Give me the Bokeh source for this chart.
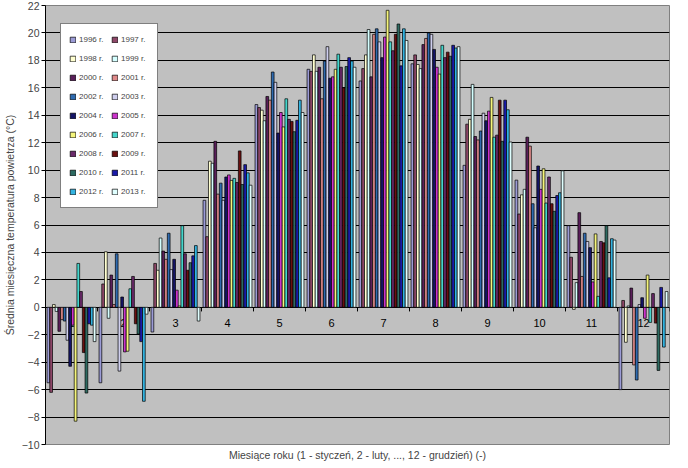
from bokeh.plotting import figure
from bokeh.models import ColumnDataSource, Range1d, FixedTicker, Legend, LegendItem, Title
from bokeh.transform import dodge
from bokeh.core.properties import value
from bokeh.embed import file_html
from bokeh.resources import INLINE

months = [1, 2, 3, 4, 5, 6, 7, 8, 9, 10, 11, 12]
month_labels = [str(m) for m in months]
years = list(range(1996, 2014))

# Monthly mean air temperature (deg C), one list per month, values for 1996..2013
jan = [-5.5, -6.2, 0.2, -0.3, -1.75, -0.9, -1.0, -2.4, -4.3, -1.3, -8.3, 3.2, 1.15, -3.3, -6.25, -1.2, -1.3, -2.5]
feb = [-5.5, 1.7, 4.05, -0.8, 2.35, 0.2, 3.9, -4.65, 0.75, -3.25, -3.2, 1.35, 2.25, -1.2, -1.95, -2.5, -6.85, -0.5]
mar = [-1.8, 3.2, 2.7, 5.05, 4.1, 3.5, 5.4, 2.75, 3.5, 1.25, 0.1, 5.95, 3.9, 2.7, 3.25, 3.75, 4.5, -1.0]
apr = [7.8, 5.15, 10.65, 10.5, 12.1, 8.25, 9.05, 7.8, 9.5, 9.65, 9.25, 9.4, 9.1, 11.4, 8.95, 10.4, 9.8, 8.9]
may = [14.78, 14.56, 14.37, 13.6, 15.37, 15.1, 17.15, 16.4, 12.7, 14.2, 13.15, 15.2, 13.7, 13.55, 12.8, 13.63, 15.1, 14.2]
jun = [17.35, 17.2, 18.4, 17.2, 17.5, 15.2, 17.95, 19.0, 16.7, 16.8, 17.35, 18.45, 17.5, 16.0, 17.55, 18.2, 17.95, 17.5]
jul = [16.5, 17.4, 18.4, 20.25, 16.8, 19.9, 20.3, 19.35, 18.2, 19.7, 21.65, 19.35, 18.7, 19.9, 20.65, 17.6, 20.3, 19.45]
aug = [17.75, 18.4, 17.7, 17.4, 19.15, 19.6, 20.0, 19.9, 18.8, 17.5, 17.0, 19.1, 18.2, 18.6, 18.3, 19.1, 18.9, 19.0]
sep = [10.35, 13.35, 13.7, 16.25, 12.45, 12.2, 12.85, 14.15, 13.6, 14.3, 15.3, 12.4, 12.55, 15.1, 12.1, 15.1, 14.4, 12.05]
oct_ = [9.27, 6.8, 8.2, 8.6, 12.4, 11.75, 7.55, 5.8, 10.3, 8.6, 10.1, 7.6, 9.5, 7.55, 7.0, 8.15, 8.35, 9.95]
nov = [5.95, 3.65, -0.15, 1.8, 6.9, 2.25, 5.4, 4.8, 4.35, 1.85, 5.35, 0.8, 4.8, 4.7, 5.95, 2.15, 5.0, 4.9]
dec = [-6.0, 0.5, -2.55, 0.1, 1.4, -4.2, -5.3, 0.2, 0.7, -0.8, 2.35, -1.1, 1.0, -1.15, -4.6, 1.45, -2.9, 1.15]

colors = ["#9b9bd6", "#8e4768", "#ffffd0", "#d4ffff", "#5a1f5a", "#e08a8a",
          "#2f6bb0", "#cfcfee", "#141466", "#cc33cc", "#f5f57a", "#45d6cc",
          "#6b2a6b", "#6b1010", "#2e6b62", "#1a1aa8", "#33b3e0", "#e0ffff"]

y_ticks = list(range(-10, 23, 2))

by_month = [jan, feb, mar, apr, may, jun, jul, aug, sep, oct_, nov, dec]
data = {"month": months, "label": month_labels}
for j, y in enumerate(years):
    data[str(y)] = [mv[j] for mv in by_month]
src = ColumnDataSource(data)

FONT = "Liberation Sans"

p = figure(width=672, height=462, output_backend="svg", toolbar_location=None,
           x_range=Range1d(0.5, 12.5), y_range=Range1d(-10, 22),
           min_border_left=36, min_border_right=3, min_border_top=5, min_border_bottom=0)
p.background_fill_color = "#c0c0c0"
p.border_fill_color = "white"
p.outline_line_color = "#808080"

p.xgrid.visible = False
p.ygrid.ticker = FixedTicker(ticks=y_ticks)
p.ygrid.grid_line_color = "black"
p.ygrid.grid_line_width = 1

p.yaxis.ticker = FixedTicker(ticks=y_ticks)
p.yaxis.minor_tick_line_color = None
p.yaxis.major_tick_in = 0
p.yaxis.major_tick_out = 4
p.yaxis.major_label_standoff = 2
p.yaxis.major_label_text_font = FONT
p.yaxis.major_label_text_font_size = "10.5px"
p.yaxis.axis_line_color = "black"
p.yaxis.axis_label = "Średnia miesięczna temperatura powietrza (°C)"
p.yaxis.axis_label_text_font = FONT
p.yaxis.axis_label_text_font_size = "10.5px"
p.yaxis.axis_label_text_font_style = "normal"
p.yaxis.axis_label_standoff = 3

p.xaxis.visible = False
xtitle = Title(text="Miesiące roku (1 - styczeń, 2 - luty, ..., 12 - grudzień) (-)",
               align="center", text_font=FONT, text_font_size="10.5px",
               text_font_style="normal", standoff=4, offset=0)
p.add_layout(xtitle, "below")

# category labels next to the zero line (drawn under the bars)
p.text(x="month", y=-1.15, text="label", source=src, text_align="center",
       text_baseline="middle", text_font=value(FONT), text_font_size="11px",
       text_color="black")

# category separator ticks on the zero line
bounds = [m - 0.5 for m in months] + [months[-1] + 0.5]
p.segment(x0=bounds, y0=[0] * len(bounds), x1=bounds, y1=[-0.3] * len(bounds),
          line_color="black", line_width=1)

n = len(years)
group = 0.94
bw = group / n
items = []
for j, y in enumerate(years):
    off = (j - (n - 1) / 2) * bw
    r = p.vbar(x=dodge("month", off, range=p.x_range), top=str(y), bottom=0,
               width=bw, source=src, fill_color=colors[j], line_color="black",
               line_width=0.7)
    items.append(LegendItem(label=f"{y} r.", renderers=[r]))

legend = Legend(items=items, location=(15, 236), orientation="horizontal", ncols=2,
                background_fill_color="white", background_fill_alpha=1,
                border_line_color="black", border_line_width=1,
                label_text_font=FONT, label_text_font_size="8px",
                glyph_width=7, glyph_height=7, label_height=15, label_width=28,
                label_standoff=3, spacing=4, padding=8, margin=0)
p.add_layout(legend, "center")

open("out.html", "w").write(file_html(p, INLINE))
